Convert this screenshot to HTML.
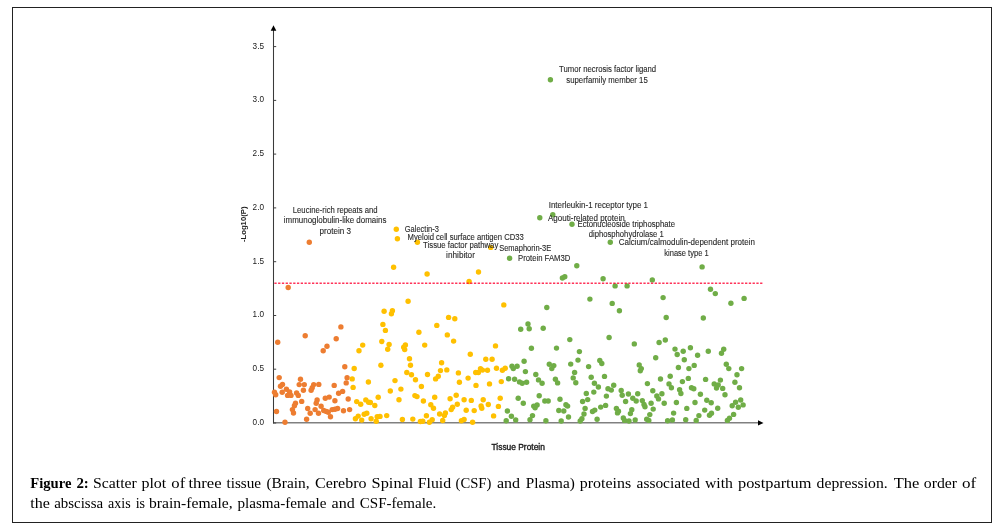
<!DOCTYPE html>
<html><head><meta charset="utf-8"><style>
html,body{margin:0;padding:0;background:#fff;}
body{width:1001px;height:529px;position:relative;overflow:hidden;font-family:"Liberation Sans",sans-serif;}
svg{will-change:transform;}
svg text{font-family:"Liberation Sans",sans-serif;}
svg text.s{font-family:"Liberation Serif",serif;}
.frame{position:absolute;left:12px;top:7px;width:978px;height:514px;border:1px solid #222;}
.cap{position:absolute;left:30px;top:474px;width:960px;font-family:"Liberation Serif",serif;}
.cap b{font-weight:bold;}
</style></head><body>
<div class="frame"></div>
<svg width="1001" height="529" viewBox="0 0 1001 529" style="position:absolute;left:0;top:0"><line x1="273" y1="422.8" x2="759" y2="422.8" stroke="#808080" stroke-width="1.6"/><polygon points="758,420.2 763.5,422.9 758,425.6" fill="#000"/><line x1="273.5" y1="423.6" x2="273.5" y2="30" stroke="#3a3a3a" stroke-width="1.05"/><polygon points="270.7,30.8 273.5,25.2 276.3,30.8" fill="#000"/><line x1="273.5" y1="423.0" x2="276.2" y2="423.0" stroke="#404040" stroke-width="1"/><text x="264" y="424.9" text-anchor="end" font-size="8.2" fill="#1a1a1a">0.0</text><line x1="273.5" y1="369.2" x2="276.2" y2="369.2" stroke="#404040" stroke-width="1"/><text x="264" y="371.1" text-anchor="end" font-size="8.2" fill="#1a1a1a">0.5</text><line x1="273.5" y1="315.5" x2="276.2" y2="315.5" stroke="#404040" stroke-width="1"/><text x="264" y="317.4" text-anchor="end" font-size="8.2" fill="#1a1a1a">1.0</text><line x1="273.5" y1="261.7" x2="276.2" y2="261.7" stroke="#404040" stroke-width="1"/><text x="264" y="263.6" text-anchor="end" font-size="8.2" fill="#1a1a1a">1.5</text><line x1="273.5" y1="207.9" x2="276.2" y2="207.9" stroke="#404040" stroke-width="1"/><text x="264" y="209.8" text-anchor="end" font-size="8.2" fill="#1a1a1a">2.0</text><line x1="273.5" y1="154.1" x2="276.2" y2="154.1" stroke="#404040" stroke-width="1"/><text x="264" y="156.0" text-anchor="end" font-size="8.2" fill="#1a1a1a">2.5</text><line x1="273.5" y1="100.4" x2="276.2" y2="100.4" stroke="#404040" stroke-width="1"/><text x="264" y="102.3" text-anchor="end" font-size="8.2" fill="#1a1a1a">3.0</text><line x1="273.5" y1="46.6" x2="276.2" y2="46.6" stroke="#404040" stroke-width="1"/><text x="264" y="48.5" text-anchor="end" font-size="8.2" fill="#1a1a1a">3.5</text><text transform="translate(246.4,224.3) rotate(-90)" text-anchor="middle" font-size="8" font-weight="bold" fill="#222" textLength="35.5" lengthAdjust="spacingAndGlyphs">-Log10(P)</text><text x="518.2" y="449.9" text-anchor="middle" font-size="8.3" fill="#1a1a1a" stroke="#1a1a1a" stroke-width="0.35" textLength="53.4" lengthAdjust="spacingAndGlyphs">Tissue Protein</text><circle cx="550.4" cy="79.8" r="2.7" fill="#70AD47"/><circle cx="309.3" cy="242.2" r="2.7" fill="#ED7D31"/><circle cx="396.3" cy="229.2" r="2.7" fill="#FFC000"/><circle cx="397.4" cy="238.8" r="2.7" fill="#FFC000"/><circle cx="417.4" cy="242.3" r="2.7" fill="#FFC000"/><circle cx="490.7" cy="247.4" r="2.7" fill="#FFC000"/><circle cx="509.6" cy="258.2" r="2.7" fill="#70AD47"/><circle cx="539.8" cy="217.7" r="2.7" fill="#70AD47"/><circle cx="552.8" cy="214.7" r="2.7" fill="#70AD47"/><circle cx="572" cy="224.2" r="2.7" fill="#70AD47"/><circle cx="610.3" cy="242.2" r="2.7" fill="#70AD47"/><circle cx="576.8" cy="265.7" r="2.7" fill="#70AD47"/><circle cx="702.1" cy="266.9" r="2.7" fill="#70AD47"/><circle cx="288.2" cy="287.5" r="2.7" fill="#ED7D31"/><circle cx="393.6" cy="267.2" r="2.7" fill="#FFC000"/><circle cx="427.1" cy="274" r="2.7" fill="#FFC000"/><circle cx="478.5" cy="272" r="2.7" fill="#FFC000"/><circle cx="469.1" cy="281.5" r="2.7" fill="#FFC000"/><circle cx="408.1" cy="301.2" r="2.7" fill="#FFC000"/><circle cx="503.8" cy="304.9" r="2.7" fill="#FFC000"/><circle cx="384.1" cy="311.2" r="2.7" fill="#FFC000"/><circle cx="392.4" cy="310.7" r="2.7" fill="#FFC000"/><circle cx="391.4" cy="313.7" r="2.7" fill="#FFC000"/><circle cx="448.6" cy="317.4" r="2.7" fill="#FFC000"/><circle cx="454.8" cy="318.7" r="2.7" fill="#FFC000"/><circle cx="340.9" cy="326.9" r="2.7" fill="#ED7D31"/><circle cx="382.9" cy="324.4" r="2.7" fill="#FFC000"/><circle cx="436.8" cy="325.4" r="2.7" fill="#FFC000"/><circle cx="385.4" cy="330.4" r="2.7" fill="#FFC000"/><circle cx="418.9" cy="332.2" r="2.7" fill="#FFC000"/><circle cx="447.3" cy="334.9" r="2.7" fill="#FFC000"/><circle cx="305.2" cy="335.7" r="2.7" fill="#ED7D31"/><circle cx="336.2" cy="338.7" r="2.7" fill="#ED7D31"/><circle cx="520.7" cy="329.3" r="2.7" fill="#70AD47"/><circle cx="528" cy="324" r="2.7" fill="#70AD47"/><circle cx="529.2" cy="328.8" r="2.7" fill="#70AD47"/><circle cx="277.7" cy="342.2" r="2.7" fill="#ED7D31"/><circle cx="327" cy="346.3" r="2.7" fill="#ED7D31"/><circle cx="323.2" cy="350.7" r="2.7" fill="#ED7D31"/><circle cx="362.7" cy="345.1" r="2.7" fill="#FFC000"/><circle cx="359" cy="350.7" r="2.7" fill="#FFC000"/><circle cx="344.8" cy="366.7" r="2.7" fill="#ED7D31"/><circle cx="354.2" cy="368.5" r="2.7" fill="#FFC000"/><circle cx="347.1" cy="377.8" r="2.7" fill="#ED7D31"/><circle cx="352.2" cy="378.9" r="2.7" fill="#FFC000"/><circle cx="368.4" cy="382" r="2.7" fill="#FFC000"/><circle cx="346.2" cy="382.9" r="2.7" fill="#ED7D31"/><circle cx="334.2" cy="385.4" r="2.7" fill="#ED7D31"/><circle cx="353.1" cy="387.4" r="2.7" fill="#FFC000"/><circle cx="342.6" cy="391.4" r="2.7" fill="#ED7D31"/><circle cx="338.6" cy="393.3" r="2.7" fill="#ED7D31"/><circle cx="325.3" cy="398.2" r="2.7" fill="#ED7D31"/><circle cx="329.2" cy="397.1" r="2.7" fill="#ED7D31"/><circle cx="348.2" cy="399" r="2.7" fill="#ED7D31"/><circle cx="334.9" cy="400.7" r="2.7" fill="#ED7D31"/><circle cx="356.7" cy="401.6" r="2.7" fill="#FFC000"/><circle cx="360.7" cy="404.2" r="2.7" fill="#FFC000"/><circle cx="365.8" cy="399.9" r="2.7" fill="#FFC000"/><circle cx="368.6" cy="402.2" r="2.7" fill="#FFC000"/><circle cx="279.2" cy="377.6" r="2.7" fill="#ED7D31"/><circle cx="282.5" cy="384.4" r="2.7" fill="#ED7D31"/><circle cx="280.5" cy="386.3" r="2.7" fill="#ED7D31"/><circle cx="300.5" cy="379.3" r="2.7" fill="#ED7D31"/><circle cx="299.2" cy="384.6" r="2.7" fill="#ED7D31"/><circle cx="304.3" cy="384.6" r="2.7" fill="#ED7D31"/><circle cx="303.4" cy="390.3" r="2.7" fill="#ED7D31"/><circle cx="313.7" cy="384.6" r="2.7" fill="#ED7D31"/><circle cx="312.2" cy="387.8" r="2.7" fill="#ED7D31"/><circle cx="311.1" cy="390.3" r="2.7" fill="#ED7D31"/><circle cx="318.8" cy="384.4" r="2.7" fill="#ED7D31"/><circle cx="274.5" cy="392.3" r="2.7" fill="#ED7D31"/><circle cx="275.7" cy="394.8" r="2.7" fill="#ED7D31"/><circle cx="282.2" cy="392.3" r="2.7" fill="#ED7D31"/><circle cx="286.4" cy="389.2" r="2.7" fill="#ED7D31"/><circle cx="289.6" cy="392" r="2.7" fill="#ED7D31"/><circle cx="287.6" cy="395.4" r="2.7" fill="#ED7D31"/><circle cx="291" cy="395.4" r="2.7" fill="#ED7D31"/><circle cx="296.6" cy="392.9" r="2.7" fill="#ED7D31"/><circle cx="298.3" cy="395.4" r="2.7" fill="#ED7D31"/><circle cx="301.7" cy="401.4" r="2.7" fill="#ED7D31"/><circle cx="295.5" cy="403.3" r="2.7" fill="#ED7D31"/><circle cx="317.1" cy="400" r="2.7" fill="#ED7D31"/><circle cx="316.2" cy="403.3" r="2.7" fill="#ED7D31"/><circle cx="294.4" cy="405.7" r="2.7" fill="#ED7D31"/><circle cx="292.4" cy="409.6" r="2.7" fill="#ED7D31"/><circle cx="293.5" cy="413" r="2.7" fill="#ED7D31"/><circle cx="276.5" cy="411.5" r="2.7" fill="#ED7D31"/><circle cx="285" cy="422.3" r="2.7" fill="#ED7D31"/><circle cx="307.7" cy="408.5" r="2.7" fill="#ED7D31"/><circle cx="310.2" cy="413.3" r="2.7" fill="#ED7D31"/><circle cx="306.6" cy="419.3" r="2.7" fill="#ED7D31"/><circle cx="315.1" cy="409.6" r="2.7" fill="#ED7D31"/><circle cx="318.5" cy="413.3" r="2.7" fill="#ED7D31"/><circle cx="321.1" cy="406.2" r="2.7" fill="#ED7D31"/><circle cx="323.7" cy="410.5" r="2.7" fill="#ED7D31"/><circle cx="328.2" cy="412.2" r="2.7" fill="#ED7D31"/><circle cx="332.2" cy="409.6" r="2.7" fill="#ED7D31"/><circle cx="337.6" cy="408.5" r="2.7" fill="#ED7D31"/><circle cx="343.5" cy="410.8" r="2.7" fill="#ED7D31"/><circle cx="349.6" cy="409.6" r="2.7" fill="#ED7D31"/><circle cx="330.5" cy="416.7" r="2.7" fill="#ED7D31"/><circle cx="355.4" cy="418.7" r="2.7" fill="#FFC000"/><circle cx="358.2" cy="416.1" r="2.7" fill="#FFC000"/><circle cx="361.7" cy="420.1" r="2.7" fill="#FFC000"/><circle cx="364.2" cy="414.2" r="2.7" fill="#FFC000"/><circle cx="366.8" cy="413.3" r="2.7" fill="#FFC000"/><circle cx="381.8" cy="341.5" r="2.7" fill="#FFC000"/><circle cx="389.1" cy="344.5" r="2.7" fill="#FFC000"/><circle cx="387.7" cy="349.3" r="2.7" fill="#FFC000"/><circle cx="405.4" cy="344.9" r="2.7" fill="#FFC000"/><circle cx="403.7" cy="347.3" r="2.7" fill="#FFC000"/><circle cx="404.7" cy="349.6" r="2.7" fill="#FFC000"/><circle cx="424.7" cy="345.1" r="2.7" fill="#FFC000"/><circle cx="409.5" cy="358.8" r="2.7" fill="#FFC000"/><circle cx="410.5" cy="365.3" r="2.7" fill="#FFC000"/><circle cx="380.9" cy="365.3" r="2.7" fill="#FFC000"/><circle cx="406.8" cy="372.5" r="2.7" fill="#FFC000"/><circle cx="411.5" cy="374.7" r="2.7" fill="#FFC000"/><circle cx="415.5" cy="379.8" r="2.7" fill="#FFC000"/><circle cx="427.5" cy="374.5" r="2.7" fill="#FFC000"/><circle cx="395" cy="380.6" r="2.7" fill="#FFC000"/><circle cx="390.3" cy="391" r="2.7" fill="#FFC000"/><circle cx="400.9" cy="389.1" r="2.7" fill="#FFC000"/><circle cx="421.4" cy="386.5" r="2.7" fill="#FFC000"/><circle cx="378.2" cy="397.3" r="2.7" fill="#FFC000"/><circle cx="414.9" cy="395.6" r="2.7" fill="#FFC000"/><circle cx="417" cy="396.6" r="2.7" fill="#FFC000"/><circle cx="399" cy="399.7" r="2.7" fill="#FFC000"/><circle cx="423.4" cy="401" r="2.7" fill="#FFC000"/><circle cx="370.4" cy="402.5" r="2.7" fill="#FFC000"/><circle cx="374.8" cy="405.5" r="2.7" fill="#FFC000"/><circle cx="371.1" cy="418.8" r="2.7" fill="#FFC000"/><circle cx="376.2" cy="421.2" r="2.7" fill="#FFC000"/><circle cx="377.2" cy="416.7" r="2.7" fill="#FFC000"/><circle cx="380" cy="416.4" r="2.7" fill="#FFC000"/><circle cx="386.7" cy="415.6" r="2.7" fill="#FFC000"/><circle cx="402.4" cy="419.5" r="2.7" fill="#FFC000"/><circle cx="412.8" cy="419.1" r="2.7" fill="#FFC000"/><circle cx="420.4" cy="421.5" r="2.7" fill="#FFC000"/><circle cx="422.8" cy="421.2" r="2.7" fill="#FFC000"/><circle cx="453.6" cy="341.1" r="2.7" fill="#FFC000"/><circle cx="470.3" cy="354.3" r="2.7" fill="#FFC000"/><circle cx="441.6" cy="362.7" r="2.7" fill="#FFC000"/><circle cx="485.8" cy="359.3" r="2.7" fill="#FFC000"/><circle cx="440.5" cy="370.6" r="2.7" fill="#FFC000"/><circle cx="446.8" cy="369.9" r="2.7" fill="#FFC000"/><circle cx="438.3" cy="376.2" r="2.7" fill="#FFC000"/><circle cx="435.6" cy="378.9" r="2.7" fill="#FFC000"/><circle cx="458.4" cy="372.9" r="2.7" fill="#FFC000"/><circle cx="459.4" cy="382.3" r="2.7" fill="#FFC000"/><circle cx="468.1" cy="378.1" r="2.7" fill="#FFC000"/><circle cx="475.7" cy="372.5" r="2.7" fill="#FFC000"/><circle cx="478.4" cy="372.5" r="2.7" fill="#FFC000"/><circle cx="480.5" cy="368.7" r="2.7" fill="#FFC000"/><circle cx="482.5" cy="370.1" r="2.7" fill="#FFC000"/><circle cx="476" cy="385.4" r="2.7" fill="#FFC000"/><circle cx="434.7" cy="397.3" r="2.7" fill="#FFC000"/><circle cx="450.1" cy="398.7" r="2.7" fill="#FFC000"/><circle cx="456.2" cy="395.3" r="2.7" fill="#FFC000"/><circle cx="464.1" cy="399.7" r="2.7" fill="#FFC000"/><circle cx="471.3" cy="400.4" r="2.7" fill="#FFC000"/><circle cx="483.2" cy="399.7" r="2.7" fill="#FFC000"/><circle cx="430.8" cy="404.8" r="2.7" fill="#FFC000"/><circle cx="433.5" cy="408.2" r="2.7" fill="#FFC000"/><circle cx="457.3" cy="404.2" r="2.7" fill="#FFC000"/><circle cx="452.6" cy="407.2" r="2.7" fill="#FFC000"/><circle cx="451.2" cy="409.6" r="2.7" fill="#FFC000"/><circle cx="466.2" cy="410.3" r="2.7" fill="#FFC000"/><circle cx="474.2" cy="410.6" r="2.7" fill="#FFC000"/><circle cx="481.1" cy="405.9" r="2.7" fill="#FFC000"/><circle cx="481.8" cy="408.2" r="2.7" fill="#FFC000"/><circle cx="426.4" cy="415.7" r="2.7" fill="#FFC000"/><circle cx="439.6" cy="414" r="2.7" fill="#FFC000"/><circle cx="445.4" cy="413" r="2.7" fill="#FFC000"/><circle cx="444.4" cy="415.4" r="2.7" fill="#FFC000"/><circle cx="432.2" cy="419.8" r="2.7" fill="#FFC000"/><circle cx="429.4" cy="422.2" r="2.7" fill="#FFC000"/><circle cx="442.7" cy="420.5" r="2.7" fill="#FFC000"/><circle cx="461.4" cy="420.8" r="2.7" fill="#FFC000"/><circle cx="464.1" cy="419.5" r="2.7" fill="#FFC000"/><circle cx="472.6" cy="422.2" r="2.7" fill="#FFC000"/><circle cx="495.5" cy="345.9" r="2.7" fill="#FFC000"/><circle cx="531.4" cy="348.2" r="2.7" fill="#70AD47"/><circle cx="492.1" cy="359.3" r="2.7" fill="#FFC000"/><circle cx="487.5" cy="370.2" r="2.7" fill="#FFC000"/><circle cx="496.5" cy="368.3" r="2.7" fill="#FFC000"/><circle cx="505.2" cy="368.3" r="2.7" fill="#FFC000"/><circle cx="502.4" cy="370.3" r="2.7" fill="#FFC000"/><circle cx="512" cy="366.2" r="2.7" fill="#70AD47"/><circle cx="513.3" cy="368.6" r="2.7" fill="#70AD47"/><circle cx="517.1" cy="366.2" r="2.7" fill="#70AD47"/><circle cx="524.1" cy="361.3" r="2.7" fill="#70AD47"/><circle cx="525.4" cy="371.6" r="2.7" fill="#70AD47"/><circle cx="535.8" cy="374.5" r="2.7" fill="#70AD47"/><circle cx="538.5" cy="379.9" r="2.7" fill="#70AD47"/><circle cx="508.6" cy="378.8" r="2.7" fill="#70AD47"/><circle cx="514.6" cy="379.3" r="2.7" fill="#70AD47"/><circle cx="519.5" cy="381.9" r="2.7" fill="#70AD47"/><circle cx="522.2" cy="383.3" r="2.7" fill="#70AD47"/><circle cx="526.6" cy="382.2" r="2.7" fill="#70AD47"/><circle cx="501.3" cy="381.6" r="2.7" fill="#FFC000"/><circle cx="489.5" cy="383.9" r="2.7" fill="#FFC000"/><circle cx="488.3" cy="404.5" r="2.7" fill="#FFC000"/><circle cx="500.2" cy="398.2" r="2.7" fill="#FFC000"/><circle cx="498.4" cy="406.4" r="2.7" fill="#FFC000"/><circle cx="493.6" cy="415.9" r="2.7" fill="#FFC000"/><circle cx="518.2" cy="398.2" r="2.7" fill="#70AD47"/><circle cx="523.3" cy="403.3" r="2.7" fill="#70AD47"/><circle cx="539.2" cy="395.7" r="2.7" fill="#70AD47"/><circle cx="533.7" cy="406.1" r="2.7" fill="#70AD47"/><circle cx="537.1" cy="405" r="2.7" fill="#70AD47"/><circle cx="535.1" cy="407.8" r="2.7" fill="#70AD47"/><circle cx="507.4" cy="411" r="2.7" fill="#70AD47"/><circle cx="511.4" cy="416.3" r="2.7" fill="#70AD47"/><circle cx="506.2" cy="420.7" r="2.7" fill="#70AD47"/><circle cx="515.7" cy="420" r="2.7" fill="#70AD47"/><circle cx="532.5" cy="415.6" r="2.7" fill="#70AD47"/><circle cx="530" cy="419.7" r="2.7" fill="#70AD47"/><circle cx="562.4" cy="278" r="2.7" fill="#70AD47"/><circle cx="564.8" cy="276.8" r="2.7" fill="#70AD47"/><circle cx="603.1" cy="278.7" r="2.7" fill="#70AD47"/><circle cx="652.3" cy="279.9" r="2.7" fill="#70AD47"/><circle cx="615.1" cy="285.9" r="2.7" fill="#70AD47"/><circle cx="627.1" cy="285.9" r="2.7" fill="#70AD47"/><circle cx="710.5" cy="289.2" r="2.7" fill="#70AD47"/><circle cx="715.3" cy="293.6" r="2.7" fill="#70AD47"/><circle cx="589.9" cy="299.1" r="2.7" fill="#70AD47"/><circle cx="663.1" cy="297.6" r="2.7" fill="#70AD47"/><circle cx="612.2" cy="303.4" r="2.7" fill="#70AD47"/><circle cx="619.4" cy="310.8" r="2.7" fill="#70AD47"/><circle cx="546.8" cy="307.5" r="2.7" fill="#70AD47"/><circle cx="730.9" cy="303.2" r="2.7" fill="#70AD47"/><circle cx="744.1" cy="298.4" r="2.7" fill="#70AD47"/><circle cx="666.2" cy="317.5" r="2.7" fill="#70AD47"/><circle cx="703.3" cy="318" r="2.7" fill="#70AD47"/><circle cx="543.2" cy="328.3" r="2.7" fill="#70AD47"/><circle cx="569.8" cy="339.6" r="2.7" fill="#70AD47"/><circle cx="556.5" cy="348.1" r="2.7" fill="#70AD47"/><circle cx="579.4" cy="351.6" r="2.7" fill="#70AD47"/><circle cx="578" cy="360.1" r="2.7" fill="#70AD47"/><circle cx="570.7" cy="364.1" r="2.7" fill="#70AD47"/><circle cx="549.3" cy="364.2" r="2.7" fill="#70AD47"/><circle cx="553.8" cy="365.6" r="2.7" fill="#70AD47"/><circle cx="551.8" cy="368.6" r="2.7" fill="#70AD47"/><circle cx="588.6" cy="366.6" r="2.7" fill="#70AD47"/><circle cx="574.6" cy="372.4" r="2.7" fill="#70AD47"/><circle cx="542.1" cy="383.3" r="2.7" fill="#70AD47"/><circle cx="555.4" cy="379.3" r="2.7" fill="#70AD47"/><circle cx="557.6" cy="382.9" r="2.7" fill="#70AD47"/><circle cx="573.2" cy="377.9" r="2.7" fill="#70AD47"/><circle cx="575.8" cy="382.8" r="2.7" fill="#70AD47"/><circle cx="591.2" cy="377.3" r="2.7" fill="#70AD47"/><circle cx="594.4" cy="383.3" r="2.7" fill="#70AD47"/><circle cx="544.8" cy="401" r="2.7" fill="#70AD47"/><circle cx="548.2" cy="401" r="2.7" fill="#70AD47"/><circle cx="560" cy="399.3" r="2.7" fill="#70AD47"/><circle cx="565.9" cy="404.7" r="2.7" fill="#70AD47"/><circle cx="567.6" cy="406.1" r="2.7" fill="#70AD47"/><circle cx="558.8" cy="410.5" r="2.7" fill="#70AD47"/><circle cx="563.8" cy="411" r="2.7" fill="#70AD47"/><circle cx="568.5" cy="417" r="2.7" fill="#70AD47"/><circle cx="545.9" cy="420.7" r="2.7" fill="#70AD47"/><circle cx="561.2" cy="421" r="2.7" fill="#70AD47"/><circle cx="586.3" cy="393.5" r="2.7" fill="#70AD47"/><circle cx="593.8" cy="392.1" r="2.7" fill="#70AD47"/><circle cx="582.6" cy="401.5" r="2.7" fill="#70AD47"/><circle cx="587.7" cy="399.6" r="2.7" fill="#70AD47"/><circle cx="585.1" cy="408.4" r="2.7" fill="#70AD47"/><circle cx="584" cy="414" r="2.7" fill="#70AD47"/><circle cx="581.9" cy="418.8" r="2.7" fill="#70AD47"/><circle cx="580.2" cy="421" r="2.7" fill="#70AD47"/><circle cx="592.5" cy="411.5" r="2.7" fill="#70AD47"/><circle cx="594.8" cy="410.1" r="2.7" fill="#70AD47"/><circle cx="609.1" cy="337.5" r="2.7" fill="#70AD47"/><circle cx="634.3" cy="343.9" r="2.7" fill="#70AD47"/><circle cx="599.8" cy="360.5" r="2.7" fill="#70AD47"/><circle cx="601.8" cy="363.5" r="2.7" fill="#70AD47"/><circle cx="604.5" cy="376.4" r="2.7" fill="#70AD47"/><circle cx="639.2" cy="364.9" r="2.7" fill="#70AD47"/><circle cx="641.3" cy="368.6" r="2.7" fill="#70AD47"/><circle cx="640.3" cy="370.7" r="2.7" fill="#70AD47"/><circle cx="647.4" cy="383.6" r="2.7" fill="#70AD47"/><circle cx="655.7" cy="357.8" r="2.7" fill="#70AD47"/><circle cx="598.4" cy="387" r="2.7" fill="#70AD47"/><circle cx="613.7" cy="385.3" r="2.7" fill="#70AD47"/><circle cx="608" cy="388.7" r="2.7" fill="#70AD47"/><circle cx="611.3" cy="390.1" r="2.7" fill="#70AD47"/><circle cx="606.4" cy="396.1" r="2.7" fill="#70AD47"/><circle cx="621.2" cy="390.4" r="2.7" fill="#70AD47"/><circle cx="622.2" cy="395.2" r="2.7" fill="#70AD47"/><circle cx="628.4" cy="394" r="2.7" fill="#70AD47"/><circle cx="637.7" cy="393.8" r="2.7" fill="#70AD47"/><circle cx="632.8" cy="398.2" r="2.7" fill="#70AD47"/><circle cx="636.2" cy="401" r="2.7" fill="#70AD47"/><circle cx="625.6" cy="401.5" r="2.7" fill="#70AD47"/><circle cx="642.3" cy="400.6" r="2.7" fill="#70AD47"/><circle cx="644" cy="404.4" r="2.7" fill="#70AD47"/><circle cx="645" cy="406.7" r="2.7" fill="#70AD47"/><circle cx="651.1" cy="403.3" r="2.7" fill="#70AD47"/><circle cx="652.8" cy="390.8" r="2.7" fill="#70AD47"/><circle cx="653.2" cy="409.1" r="2.7" fill="#70AD47"/><circle cx="605.6" cy="405.4" r="2.7" fill="#70AD47"/><circle cx="600.7" cy="407.1" r="2.7" fill="#70AD47"/><circle cx="616.4" cy="408.4" r="2.7" fill="#70AD47"/><circle cx="618.5" cy="411.2" r="2.7" fill="#70AD47"/><circle cx="617.5" cy="412.9" r="2.7" fill="#70AD47"/><circle cx="631.8" cy="409.8" r="2.7" fill="#70AD47"/><circle cx="630.4" cy="413.6" r="2.7" fill="#70AD47"/><circle cx="649.8" cy="414.6" r="2.7" fill="#70AD47"/><circle cx="597.1" cy="419.3" r="2.7" fill="#70AD47"/><circle cx="623.3" cy="418" r="2.7" fill="#70AD47"/><circle cx="624.6" cy="420.4" r="2.7" fill="#70AD47"/><circle cx="629" cy="421" r="2.7" fill="#70AD47"/><circle cx="635.2" cy="420" r="2.7" fill="#70AD47"/><circle cx="646.7" cy="419.3" r="2.7" fill="#70AD47"/><circle cx="648.8" cy="420.4" r="2.7" fill="#70AD47"/><circle cx="659.1" cy="342.5" r="2.7" fill="#70AD47"/><circle cx="665.3" cy="340" r="2.7" fill="#70AD47"/><circle cx="675" cy="349.1" r="2.7" fill="#70AD47"/><circle cx="677.2" cy="354.5" r="2.7" fill="#70AD47"/><circle cx="683.2" cy="351.3" r="2.7" fill="#70AD47"/><circle cx="690.4" cy="347.7" r="2.7" fill="#70AD47"/><circle cx="697.6" cy="355.2" r="2.7" fill="#70AD47"/><circle cx="708.3" cy="351.3" r="2.7" fill="#70AD47"/><circle cx="684.3" cy="359.8" r="2.7" fill="#70AD47"/><circle cx="678.4" cy="367.5" r="2.7" fill="#70AD47"/><circle cx="688.9" cy="368.6" r="2.7" fill="#70AD47"/><circle cx="694.2" cy="365.4" r="2.7" fill="#70AD47"/><circle cx="670.2" cy="376.3" r="2.7" fill="#70AD47"/><circle cx="660.5" cy="379" r="2.7" fill="#70AD47"/><circle cx="688.3" cy="378.4" r="2.7" fill="#70AD47"/><circle cx="682.4" cy="381.6" r="2.7" fill="#70AD47"/><circle cx="705.6" cy="379.4" r="2.7" fill="#70AD47"/><circle cx="669" cy="383.9" r="2.7" fill="#70AD47"/><circle cx="671.4" cy="387.7" r="2.7" fill="#70AD47"/><circle cx="691.5" cy="387.7" r="2.7" fill="#70AD47"/><circle cx="693.8" cy="388.7" r="2.7" fill="#70AD47"/><circle cx="679.6" cy="389.7" r="2.7" fill="#70AD47"/><circle cx="680.9" cy="393.5" r="2.7" fill="#70AD47"/><circle cx="661.9" cy="393.8" r="2.7" fill="#70AD47"/><circle cx="656.8" cy="395.9" r="2.7" fill="#70AD47"/><circle cx="658.5" cy="398.9" r="2.7" fill="#70AD47"/><circle cx="700.4" cy="394.3" r="2.7" fill="#70AD47"/><circle cx="706.8" cy="400.3" r="2.7" fill="#70AD47"/><circle cx="711.2" cy="402.7" r="2.7" fill="#70AD47"/><circle cx="664.2" cy="403.3" r="2.7" fill="#70AD47"/><circle cx="676.4" cy="402.5" r="2.7" fill="#70AD47"/><circle cx="695" cy="402.5" r="2.7" fill="#70AD47"/><circle cx="686.8" cy="408.4" r="2.7" fill="#70AD47"/><circle cx="704.7" cy="410.1" r="2.7" fill="#70AD47"/><circle cx="673.6" cy="413.1" r="2.7" fill="#70AD47"/><circle cx="698.9" cy="415.6" r="2.7" fill="#70AD47"/><circle cx="709.5" cy="415.3" r="2.7" fill="#70AD47"/><circle cx="711.5" cy="413.2" r="2.7" fill="#70AD47"/><circle cx="667.6" cy="420.7" r="2.7" fill="#70AD47"/><circle cx="672.4" cy="420" r="2.7" fill="#70AD47"/><circle cx="685.7" cy="419.7" r="2.7" fill="#70AD47"/><circle cx="696.2" cy="420.4" r="2.7" fill="#70AD47"/><circle cx="723.7" cy="349.2" r="2.7" fill="#70AD47"/><circle cx="721.5" cy="353.3" r="2.7" fill="#70AD47"/><circle cx="726.3" cy="364.3" r="2.7" fill="#70AD47"/><circle cx="728.8" cy="368.6" r="2.7" fill="#70AD47"/><circle cx="741.6" cy="368.6" r="2.7" fill="#70AD47"/><circle cx="737" cy="374.7" r="2.7" fill="#70AD47"/><circle cx="720.4" cy="380.1" r="2.7" fill="#70AD47"/><circle cx="714.2" cy="383.9" r="2.7" fill="#70AD47"/><circle cx="718.2" cy="385" r="2.7" fill="#70AD47"/><circle cx="734.9" cy="382.2" r="2.7" fill="#70AD47"/><circle cx="716.5" cy="388" r="2.7" fill="#70AD47"/><circle cx="722.7" cy="388.4" r="2.7" fill="#70AD47"/><circle cx="739.5" cy="387.7" r="2.7" fill="#70AD47"/><circle cx="725" cy="394.8" r="2.7" fill="#70AD47"/><circle cx="717.7" cy="408.3" r="2.7" fill="#70AD47"/><circle cx="735.6" cy="402.3" r="2.7" fill="#70AD47"/><circle cx="740.7" cy="400" r="2.7" fill="#70AD47"/><circle cx="732.2" cy="405.7" r="2.7" fill="#70AD47"/><circle cx="738.3" cy="407.2" r="2.7" fill="#70AD47"/><circle cx="743.1" cy="404.9" r="2.7" fill="#70AD47"/><circle cx="733.6" cy="414.4" r="2.7" fill="#70AD47"/><circle cx="729.5" cy="418.3" r="2.7" fill="#70AD47"/><circle cx="727.4" cy="420.4" r="2.7" fill="#70AD47"/><circle cx="326.3" cy="411.4" r="2.7" fill="#ED7D31"/><circle cx="335" cy="409.2" r="2.7" fill="#ED7D31"/><line x1="274.35" y1="283.15" x2="762.4" y2="283.15" stroke="#ff0030" stroke-opacity="0.8" stroke-width="1.45" stroke-dasharray="2.3 1.4655"/><text x="559.1" y="72.4" font-size="8.3" fill="#2a2a2a" stroke="#2a2a2a" stroke-width="0.12" textLength="97.0" lengthAdjust="spacingAndGlyphs">Tumor necrosis factor ligand</text><text x="566.3" y="82.6" font-size="8.3" fill="#2a2a2a" stroke="#2a2a2a" stroke-width="0.12" textLength="81.5" lengthAdjust="spacingAndGlyphs">superfamily member 15</text><text x="292.8" y="212.8" font-size="8.3" fill="#2a2a2a" stroke="#2a2a2a" stroke-width="0.12" textLength="84.8" lengthAdjust="spacingAndGlyphs">Leucine-rich repeats and</text><text x="283.8" y="223.0" font-size="8.3" fill="#2a2a2a" stroke="#2a2a2a" stroke-width="0.12" textLength="102.6" lengthAdjust="spacingAndGlyphs">immunoglobulin-like domains</text><text x="319.5" y="233.8" font-size="8.3" fill="#2a2a2a" stroke="#2a2a2a" stroke-width="0.12" textLength="31.4" lengthAdjust="spacingAndGlyphs">protein 3</text><text x="404.8" y="231.6" font-size="8.3" fill="#2a2a2a" stroke="#2a2a2a" stroke-width="0.12" textLength="34.1" lengthAdjust="spacingAndGlyphs">Galectin-3</text><text x="407.5" y="240.3" font-size="8.3" fill="#2a2a2a" stroke="#2a2a2a" stroke-width="0.12" textLength="116.3" lengthAdjust="spacingAndGlyphs">Myeloid cell surface antigen CD33</text><text x="423.1" y="248.0" font-size="8.3" fill="#2a2a2a" stroke="#2a2a2a" stroke-width="0.12" textLength="75.2" lengthAdjust="spacingAndGlyphs">Tissue factor pathway</text><text x="446.1" y="257.7" font-size="8.3" fill="#2a2a2a" stroke="#2a2a2a" stroke-width="0.12" textLength="28.8" lengthAdjust="spacingAndGlyphs">inhibitor</text><text x="499.2" y="250.5" font-size="8.3" fill="#2a2a2a" stroke="#2a2a2a" stroke-width="0.12" textLength="52.1" lengthAdjust="spacingAndGlyphs">Semaphorin-3E</text><text x="518.1" y="261.3" font-size="8.3" fill="#2a2a2a" stroke="#2a2a2a" stroke-width="0.12" textLength="52.2" lengthAdjust="spacingAndGlyphs">Protein FAM3D</text><text x="548.7" y="207.8" font-size="8.3" fill="#2a2a2a" stroke="#2a2a2a" stroke-width="0.12" textLength="99.3" lengthAdjust="spacingAndGlyphs">Interleukin-1 receptor type 1</text><text x="548.0" y="221.1" font-size="8.3" fill="#2a2a2a" stroke="#2a2a2a" stroke-width="0.12" textLength="76.7" lengthAdjust="spacingAndGlyphs">Agouti-related protein</text><text x="577.5" y="227.0" font-size="8.3" fill="#2a2a2a" stroke="#2a2a2a" stroke-width="0.12" textLength="97.5" lengthAdjust="spacingAndGlyphs">Ectonucleoside triphosphate</text><text x="588.7" y="237.2" font-size="8.3" fill="#2a2a2a" stroke="#2a2a2a" stroke-width="0.12" textLength="75.1" lengthAdjust="spacingAndGlyphs">diphosphohydrolase 1</text><text x="618.7" y="245.3" font-size="8.3" fill="#2a2a2a" stroke="#2a2a2a" stroke-width="0.12" textLength="136.2" lengthAdjust="spacingAndGlyphs">Calcium/calmodulin-dependent protein</text><text x="664.3" y="255.6" font-size="8.3" fill="#2a2a2a" stroke="#2a2a2a" stroke-width="0.12" textLength="44.3" lengthAdjust="spacingAndGlyphs">kinase type 1</text></svg>
<svg width="1001" height="529" style="position:absolute;left:0;top:0" font-family="Liberation Serif, serif">
<text class="s" x="30.2" y="488" font-size="15" font-weight="bold" fill="#000" textLength="41.2" lengthAdjust="spacingAndGlyphs">Figure</text>
<text class="s" x="76.4" y="488" font-size="15" font-weight="bold" fill="#000" textLength="12.4" lengthAdjust="spacingAndGlyphs">2:</text>
<text class="s" x="93.0" y="488" font-size="15" fill="#000" textLength="43.8" lengthAdjust="spacingAndGlyphs">Scatter</text>
<text class="s" x="141.4" y="488" font-size="15" fill="#000" textLength="24.9" lengthAdjust="spacingAndGlyphs">plot</text>
<text class="s" x="171.3" y="488" font-size="15" fill="#000" textLength="13.9" lengthAdjust="spacingAndGlyphs">of</text>
<text class="s" x="188.4" y="488" font-size="15" fill="#000" textLength="33.2" lengthAdjust="spacingAndGlyphs">three</text>
<text class="s" x="226.5" y="488" font-size="15" fill="#000" textLength="34.6" lengthAdjust="spacingAndGlyphs">tissue</text>
<text class="s" x="266.4" y="488" font-size="15" fill="#000" textLength="43.2" lengthAdjust="spacingAndGlyphs">(Brain,</text>
<text class="s" x="315.0" y="488" font-size="15" fill="#000" textLength="51.5" lengthAdjust="spacingAndGlyphs">Cerebro</text>
<text class="s" x="371.6" y="488" font-size="15" fill="#000" textLength="41.8" lengthAdjust="spacingAndGlyphs">Spinal</text>
<text class="s" x="417.8" y="488" font-size="15" fill="#000" textLength="33.3" lengthAdjust="spacingAndGlyphs">Fluid</text>
<text class="s" x="455.6" y="488" font-size="15" fill="#000" textLength="35.8" lengthAdjust="spacingAndGlyphs">(CSF)</text>
<text class="s" x="497" y="488" font-size="15" fill="#000" textLength="23.1" lengthAdjust="spacingAndGlyphs">and</text>
<text class="s" x="525.7" y="488" font-size="15" fill="#000" textLength="49.1" lengthAdjust="spacingAndGlyphs">Plasma)</text>
<text class="s" x="579.8" y="488" font-size="15" fill="#000" textLength="51.3" lengthAdjust="spacingAndGlyphs">proteins</text>
<text class="s" x="636.6" y="488" font-size="15" fill="#000" textLength="63.3" lengthAdjust="spacingAndGlyphs">associated</text>
<text class="s" x="704.9" y="488" font-size="15" fill="#000" textLength="28.0" lengthAdjust="spacingAndGlyphs">with</text>
<text class="s" x="738" y="488" font-size="15" fill="#000" textLength="73.5" lengthAdjust="spacingAndGlyphs">postpartum</text>
<text class="s" x="816.6" y="488" font-size="15" fill="#000" textLength="71.1" lengthAdjust="spacingAndGlyphs">depression.</text>
<text class="s" x="893.8" y="488" font-size="15" fill="#000" textLength="25.6" lengthAdjust="spacingAndGlyphs">The</text>
<text class="s" x="923.8" y="488" font-size="15" fill="#000" textLength="33.3" lengthAdjust="spacingAndGlyphs">order</text>
<text class="s" x="962.1" y="488" font-size="15" fill="#000" textLength="14.2" lengthAdjust="spacingAndGlyphs">of</text>
<text class="s" x="30.2" y="507.8" font-size="15" fill="#000" textLength="19.6" lengthAdjust="spacingAndGlyphs">the</text>
<text class="s" x="54.2" y="507.8" font-size="15" fill="#000" textLength="48.9" lengthAdjust="spacingAndGlyphs">abscissa</text>
<text class="s" x="108.1" y="507.8" font-size="15" fill="#000" textLength="22.6" lengthAdjust="spacingAndGlyphs">axis</text>
<text class="s" x="135.7" y="507.8" font-size="15" fill="#000" textLength="9.4" lengthAdjust="spacingAndGlyphs">is</text>
<text class="s" x="149" y="507.8" font-size="15" fill="#000" textLength="83.7" lengthAdjust="spacingAndGlyphs">brain-female,</text>
<text class="s" x="237.4" y="507.8" font-size="15" fill="#000" textLength="89.1" lengthAdjust="spacingAndGlyphs">plasma-female</text>
<text class="s" x="331.6" y="507.8" font-size="15" fill="#000" textLength="23.2" lengthAdjust="spacingAndGlyphs">and</text>
<text class="s" x="359.8" y="507.8" font-size="15" fill="#000" textLength="76.5" lengthAdjust="spacingAndGlyphs">CSF-female.</text>
</svg>
</body></html>
